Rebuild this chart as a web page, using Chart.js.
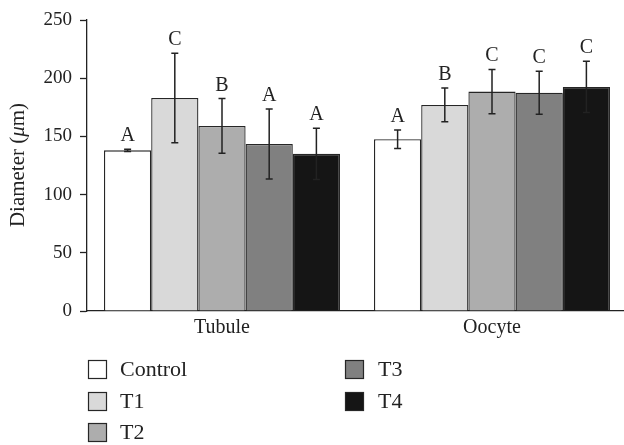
<!DOCTYPE html>
<html><head><meta charset="utf-8">
<script src="https://cdn.jsdelivr.net/npm/chart.js@4.4.1/dist/chart.umd.min.js"></script>
<style>html,body{margin:0;padding:0;background:#fff;overflow:hidden;width:624px;height:445px}
#wrap{position:relative;width:627px;height:445px}</style>
</head><body><div id="wrap"><canvas id="c" width="627" height="445"></canvas></div>
<script>
const categories = ['Tubule', 'Oocyte'];
const seriesNames = ['Control', 'T1', 'T2', 'T3', 'T4'];
const control = [138, 147.5];
const t1 = [183, 177];
const t2 = [159, 188.5];
const t3 = [143.5, 187.5];
const t4 = [135, 192.5];
const errControl = [1, 8];
const errT1 = [38.5, 14.5];
const errT2 = [23.5, 19];
const errT3 = [30, 18.5];
const errT4 = [22, 22];
const lettersControl = ['A', 'A'];
const lettersT1 = ['C', 'B'];
const lettersT2 = ['B', 'C'];
const lettersT3 = ['A', 'C'];
const lettersT4 = ['A', 'C'];
const yTicks = [0, 50, 100, 150, 200, 250];

const colors = ['#ffffff', '#d9d9d9', '#adadad', '#808080', '#151515'];
const values = [control, t1, t2, t3, t4];
const errs = [errControl, errT1, errT2, errT3, errT4];
const letters = [lettersControl, lettersT1, lettersT2, lettersT3, lettersT4];
const FONT = '"Liberation Serif", "DejaVu Serif", serif';

const datasets = seriesNames.map((n, i) => ({
  label: n, data: values[i], backgroundColor: colors[i],
  borderColor: '#262626', borderWidth: 1.3, borderSkipped: 'bottom',
  categoryPercentage: 0.874, barPercentage: 1,
  err: errs[i], letters: letters[i]
}));

const extras = {
  id: 'extras',
  afterDatasetsDraw(chart) {
    const ctx = chart.ctx;
    const y = chart.scales.y;
    ctx.save();
    chart.data.datasets.forEach((ds, di) => {
      const meta = chart.getDatasetMeta(di);
      meta.data.forEach((bar, k) => {
        const v = ds.data[k], e = ds.err[k];
        const yt = y.getPixelForValue(v + e), yb = y.getPixelForValue(v - e);
        const x = bar.x;
        ctx.strokeStyle = '#222'; ctx.lineWidth = 1.5;
        ctx.beginPath();
        ctx.moveTo(x, yt); ctx.lineTo(x, yb);
        ctx.moveTo(x - 3.5, yt); ctx.lineTo(x + 3.5, yt);
        ctx.moveTo(x - 3.5, yb); ctx.lineTo(x + 3.5, yb);
        ctx.stroke();
        ctx.fillStyle = '#222';
        ctx.font = '20px ' + FONT;
        ctx.textAlign = 'center'; ctx.textBaseline = 'alphabetic';
        ctx.fillText(ds.letters[k], x, yt - 8);
      });
    });
    // y title with italic mu
    ctx.translate(18, 165);
    ctx.rotate(-Math.PI / 2);
    const parts = [['Diameter (', ''], ['\u03bc', 'italic '], ['m)', '']];
    let total = 0;
    parts.forEach(p => { ctx.font = p[1] + '21px ' + FONT; total += ctx.measureText(p[0]).width; });
    let cx = -total / 2;
    ctx.textAlign = 'left'; ctx.textBaseline = 'middle'; ctx.fillStyle = '#222';
    parts.forEach(p => { ctx.font = p[1] + '21px ' + FONT; ctx.fillText(p[0], cx, 0); cx += ctx.measureText(p[0]).width; });
    ctx.restore();
    // legend
    ctx.save();
    const cols = [[88, 120], [345, 378]];
    const rows = [369, 401, 432];
    chart.data.datasets.forEach((ds, i) => {
      const c = i < 3 ? 0 : 1, r = i < 3 ? i : i - 3;
      const bx = cols[c][0], by = rows[r] - 9;
      ctx.fillStyle = ds.backgroundColor; ctx.fillRect(bx, by, 19, 19);
      ctx.strokeStyle = '#262626'; ctx.lineWidth = 1.2; ctx.strokeRect(bx + 0.5, by + 0.5, 18, 18);
      ctx.fillStyle = '#222'; ctx.font = '22px ' + FONT;
      ctx.textAlign = 'left'; ctx.textBaseline = 'middle';
      ctx.fillText(ds.label, cols[c][1], rows[r] + 1);
    });
    ctx.restore();
  }
};

new Chart(document.getElementById('c'), {
  type: 'bar',
  data: { labels: categories, datasets },
  options: {
    responsive: false, animation: false,
    layout: { padding: { top: 20, right: 0, left: 0, bottom: 0 } },
    plugins: { legend: { display: false }, tooltip: { enabled: false } },
    scales: {
      x: {
        grid: { display: false, drawTicks: false },
        border: { color: '#222', width: 1.3 },
        ticks: { color: '#222', font: { family: FONT, size: 20 }, padding: 5 },
        afterFit(s) { s.height = 134; }
      },
      y: {
        min: 0, max: 250,
        afterBuildTicks(s) { s.ticks = yTicks.map(v => ({ value: v })); },
        grid: { display: true, drawOnChartArea: false, drawTicks: true, tickLength: 7, tickColor: '#222', tickWidth: 1.3 },
        border: { color: '#222', width: 1.3 },
        ticks: { color: '#222', font: { family: FONT, size: 19 }, padding: 8 },
        afterFit(s) { s.width = 87; }
      }
    }
  },
  plugins: [extras]
});
</script></body></html>
